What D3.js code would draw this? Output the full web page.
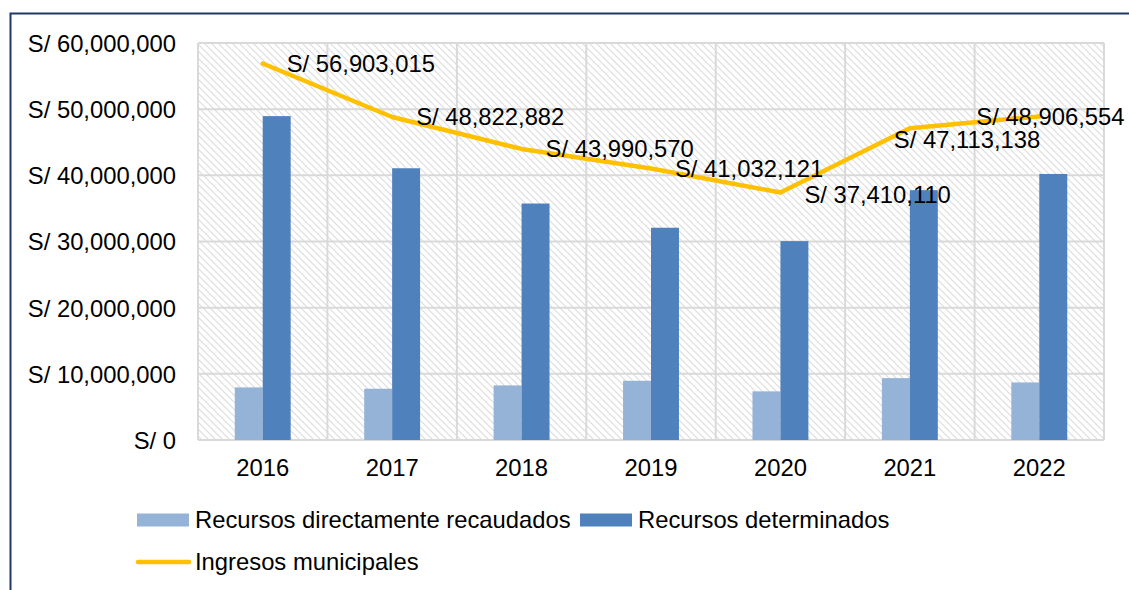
<!DOCTYPE html>
<html>
<head>
<meta charset="utf-8">
<script src="https://d3js.org/d3.v7.min.js"></script>
<style>
  body { margin: 0; background: #fff; }
  svg { display: block; font-family: "Liberation Sans", Arial, sans-serif; }
</style>
</head>
<body>
<div id="chart"></div>
<script>
  // data
  const years = ["2016", "2017", "2018", "2019", "2020", "2021", "2022"];
  const recaudados = [7950000, 7750000, 8250000, 8950000, 7350000, 9350000, 8700000];
  const determinados = [48950000, 41070000, 35740000, 32080000, 30060000, 37760000, 40210000];
  const ingresos = [56903015, 48822882, 43990570, 41032121, 37410110, 47113138, 48906554];
  const yTicks = [0, 10000000, 20000000, 30000000, 40000000, 50000000, 60000000];

  const names = ["Recursos directamente recaudados", "Recursos determinados", "Ingresos municipales"];
  const colors = ["#95B3D7", "#4F81BD", "#FFC000"];

  // label nudges (the labels were moved by hand in the original)
  const labelDx = [24, 24, 24, 24, 24, -16, -63];
  const labelDy = [0, 0, 0, 0, 2, 11, 0];

  const width = 1129, height = 590;
  const plot = {left: 198, right: 1104, top: 43, bottom: 440};
  const fs = 23.8;

  const fmt = v => "S/ " + d3.format(",")(v);

  const svg = d3.select("#chart").append("svg")
      .attr("width", width)
      .attr("height", height);

  // outer frame
  svg.append("rect")
      .attr("x", 10.5).attr("y", 13.5)
      .attr("width", 1300).attr("height", 700)
      .attr("fill", "none")
      .attr("stroke", "#1F3864")
      .attr("stroke-width", 2);

  // hatch background
  const pat = svg.append("defs").append("pattern")
      .attr("id", "hatch")
      .attr("patternUnits", "userSpaceOnUse")
      .attr("width", 7).attr("height", 7);
  pat.append("path")
      .attr("d", "M-1,-1 L8,8 M-4,3 L0,7 M3,-4 L11,4")
      .attr("stroke", "#DCDCDC")
      .attr("stroke-width", 1.1);

  const x = d3.scaleBand()
      .domain(years)
      .range([plot.left, plot.right])
      .padding(0);

  const bw = x.bandwidth();
  const x1 = d3.scaleBand()
      .domain([0, 1])
      .range([bw * 0.284, bw * 0.716]);

  const y = d3.scaleLinear()
      .domain([0, 60000000])
      .range([plot.bottom, plot.top]);

  svg.append("rect")
      .attr("x", plot.left).attr("y", plot.top)
      .attr("width", plot.right - plot.left)
      .attr("height", plot.bottom - plot.top)
      .attr("fill", "url(#hatch)");

  // gridlines
  const grid = svg.append("g")
      .attr("stroke", "#D9D9D9")
      .attr("stroke-width", 2);
  grid.selectAll("line.h").data(yTicks)
    .join("line")
      .attr("class", "h")
      .attr("x1", plot.left).attr("x2", plot.right)
      .attr("y1", d => y(d)).attr("y2", d => y(d));
  grid.selectAll("line.v").data(years.concat(["end"]))
    .join("line")
      .attr("class", "v")
      .attr("x1", (d, i) => plot.left + i * bw)
      .attr("x2", (d, i) => plot.left + i * bw)
      .attr("y1", plot.top).attr("y2", plot.bottom);

  // y axis
  const yAxis = svg.append("g")
      .attr("transform", `translate(${plot.left - 22},0)`)
      .call(d3.axisLeft(y).tickValues(yTicks).tickFormat(fmt).tickSize(0).tickPadding(0));
  yAxis.select(".domain").remove();
  yAxis.selectAll("text")
      .attr("font-size", fs)
      .attr("font-family", "Liberation Sans, Arial, sans-serif")
      .attr("fill", "#000")
      .attr("dy", "0.35em");

  // x axis
  const xAxis = svg.append("g")
      .attr("transform", `translate(0,${plot.bottom})`)
      .call(d3.axisBottom(x).tickSize(0).tickPadding(19));
  xAxis.select(".domain").remove();
  xAxis.selectAll("text")
      .attr("font-size", fs)
      .attr("font-family", "Liberation Sans, Arial, sans-serif")
      .attr("fill", "#000");

  // bars
  const series = [recaudados, determinados];
  series.forEach((vals, s) => {
    svg.append("g").selectAll("rect").data(vals)
      .join("rect")
        .attr("x", (d, i) => x(years[i]) + x1(s))
        .attr("width", x1.bandwidth())
        .attr("y", d => y(d))
        .attr("height", d => y(0) - y(d))
        .attr("fill", colors[s]);
  });

  // line
  const line = d3.line()
      .x((d, i) => x(years[i]) + bw / 2)
      .y(d => y(d));
  svg.append("path")
      .datum(ingresos)
      .attr("d", line)
      .attr("fill", "none")
      .attr("stroke", colors[2])
      .attr("stroke-width", 4.5)
      .attr("stroke-linejoin", "round")
      .attr("stroke-linecap", "round");

  // data labels
  svg.append("g").selectAll("text").data(ingresos)
    .join("text")
      .attr("x", (d, i) => x(years[i]) + bw / 2 + labelDx[i])
      .attr("y", (d, i) => y(d) + labelDy[i])
      .attr("dy", "0.35em")
      .attr("font-size", fs)
      .attr("fill", "#000")
      .text(fmt);

  // legend
  const leg = svg.append("g");
  const legItems = [
    {i: 0, x: 137, y: 520, type: "rect"},
    {i: 1, x: 580, y: 520, type: "rect"},
    {i: 2, x: 137, y: 562, type: "line"}
  ];
  legItems.forEach(it => {
    if (it.type === "rect") {
      leg.append("rect")
          .attr("x", it.x).attr("y", it.y - 6.5)
          .attr("width", 52).attr("height", 13)
          .attr("fill", colors[it.i]);
    } else {
      leg.append("line")
          .attr("x1", it.x + 1).attr("x2", it.x + 52)
          .attr("y1", it.y).attr("y2", it.y)
          .attr("stroke", colors[it.i])
          .attr("stroke-width", 4.5)
          .attr("stroke-linecap", "round");
    }
    leg.append("text")
        .attr("x", it.x + 58)
        .attr("y", it.y)
        .attr("dy", "0.35em")
        .attr("font-size", fs)
        .attr("fill", "#000")
        .text(names[it.i]);
  });
</script>
</body>
</html>
